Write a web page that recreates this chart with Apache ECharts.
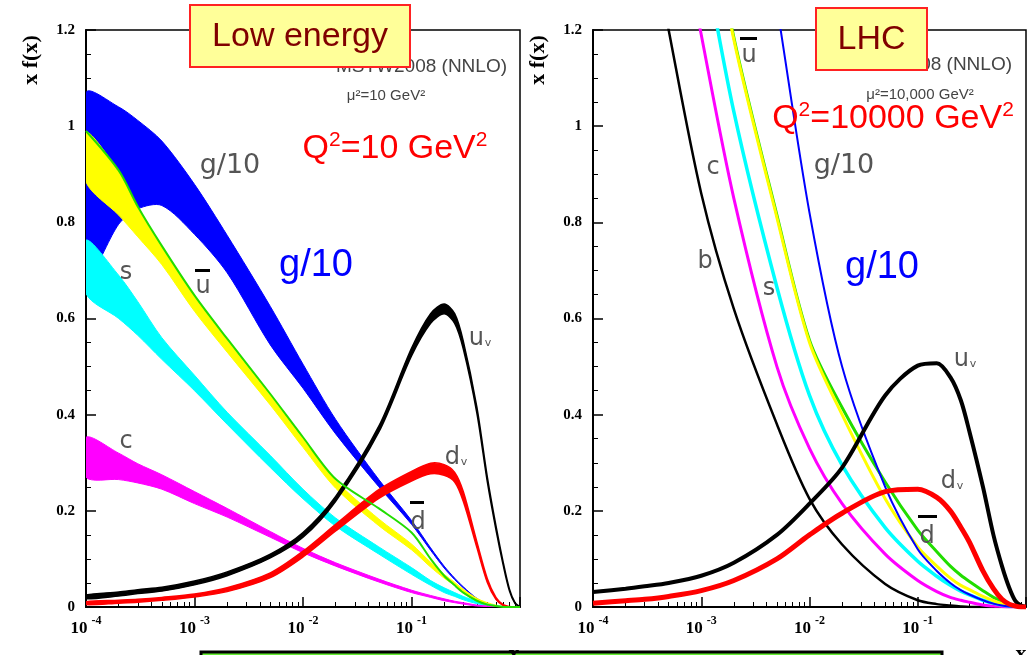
<!DOCTYPE html>
<html>
<head>
<meta charset="utf-8">
<script src="https://cdn.jsdelivr.net/npm/echarts@6/dist/echarts.min.js"></script>
<style>
  html, body { margin: 0; padding: 0; background: #fff; }
  #chart { width: 1030px; height: 655px; }
</style>
</head>
<body>
<div id="chart"></div>
<script>
// x grid shared by every curve
const xs = [1e-4, 2e-4, 3e-4, 5e-4, 1e-3, 2e-3, 5e-3, 0.01, 0.02, 0.05, 0.1, 0.15, 0.2, 0.25, 0.3, 0.4, 0.5, 0.6, 0.7, 0.8, 0.9, 1];
const xMajor = [1e-4, 1e-3, 1e-2, 1e-1, 1];
const xLabels = [1e-4, 1e-3, 1e-2, 1e-1];
const xMinor = [2e-4, 3e-4, 4e-4, 5e-4, 6e-4, 7e-4, 8e-4, 9e-4,
  2e-3, 3e-3, 4e-3, 5e-3, 6e-3, 7e-3, 8e-3, 9e-3,
  0.02, 0.03, 0.04, 0.05, 0.06, 0.07, 0.08, 0.09,
  0.2, 0.3, 0.4, 0.5, 0.6, 0.7, 0.8, 0.9];

// Q2 = 10 GeV2 (bands: lower / upper edge)
const gLo   = [0.68, 0.796, 0.828, 0.835, 0.775, 0.695, 0.545, 0.455, 0.36, 0.25, 0.172, 0.118, 0.081, 0.057, 0.04, 0.016, 0.006, 0.001, 0, 0, 0, 0];
const gHi   = [1.069, 1.04, 1.012, 0.969, 0.879, 0.773, 0.625, 0.505, 0.39, 0.265, 0.18, 0.123, 0.085, 0.06, 0.042, 0.018, 0.007, 0.002, 0.001, 0, 0, 0];
const ubLo  = [0.884, 0.815, 0.77, 0.712, 0.615, 0.53, 0.42, 0.332, 0.247, 0.169, 0.119, 0.083, 0.06, 0.045, 0.031, 0.014, 0.006, 0.002, 0, 0, 0, 0];
const ubHi  = [0.988, 0.905, 0.83, 0.748, 0.645, 0.555, 0.44, 0.35, 0.263, 0.183, 0.131, 0.093, 0.068, 0.051, 0.037, 0.018, 0.009, 0.004, 0.001, 0, 0, 0];
const dbar  = [0.99, 0.908, 0.833, 0.751, 0.648, 0.558, 0.443, 0.353, 0.266, 0.205, 0.155, 0.1, 0.065, 0.045, 0.03, 0.013, 0.005, 0.002, 0, 0, 0, 0];
const sLo   = [0.652, 0.6, 0.565, 0.515, 0.45, 0.38, 0.29, 0.225, 0.168, 0.11, 0.068, 0.045, 0.03, 0.022, 0.015, 0.007, 0.003, 0.001, 0, 0, 0, 0];
const sHi   = [0.763, 0.69, 0.635, 0.56, 0.482, 0.405, 0.315, 0.245, 0.185, 0.125, 0.082, 0.055, 0.04, 0.03, 0.022, 0.012, 0.006, 0.003, 0.001, 0, 0, 0];
const cLo   = [0.27, 0.265, 0.258, 0.245, 0.215, 0.187, 0.145, 0.113, 0.085, 0.052, 0.03, 0.02, 0.013, 0.009, 0.006, 0.002, 0.001, 0, 0, 0, 0, 0];
const cHi   = [0.353, 0.32, 0.298, 0.275, 0.24, 0.205, 0.157, 0.122, 0.092, 0.058, 0.035, 0.024, 0.017, 0.012, 0.009, 0.004, 0.002, 0, 0, 0, 0, 0];
const uvLo  = [0.017, 0.023, 0.028, 0.033, 0.046, 0.065, 0.102, 0.145, 0.22, 0.364, 0.522, 0.59, 0.61, 0.59, 0.537, 0.404, 0.26, 0.161, 0.087, 0.033, 0.007, 0];
const uvHi  = [0.025, 0.031, 0.036, 0.041, 0.054, 0.073, 0.11, 0.155, 0.23, 0.376, 0.538, 0.61, 0.63, 0.61, 0.553, 0.416, 0.27, 0.169, 0.093, 0.037, 0.009, 0];
const dvLo  = [0.005, 0.008, 0.01, 0.014, 0.021, 0.032, 0.061, 0.104, 0.158, 0.226, 0.262, 0.277, 0.274, 0.26, 0.22, 0.124, 0.051, 0.016, 0.003, 0, 0, 0];
const dvHi  = [0.011, 0.014, 0.016, 0.02, 0.027, 0.04, 0.071, 0.116, 0.172, 0.244, 0.282, 0.299, 0.296, 0.28, 0.24, 0.136, 0.059, 0.02, 0.005, 0.001, 0, 0];

// Q2 = 10000 GeV2 (central lines)
const bR    = [2.1, 1.7, 1.47, 1.2, 0.86, 0.62, 0.38, 0.225, 0.13, 0.048, 0.014, 0.006, 0.003, 0.001, 0, 0, 0, 0, 0, 0, 0, 0];
const cR    = [2.6, 2.1, 1.85, 1.55, 1.19, 0.85, 0.5, 0.33, 0.215, 0.11, 0.055, 0.032, 0.02, 0.014, 0.01, 0.004, 0.002, 0.001, 0, 0, 0, 0];
const sR    = [3.0, 2.45, 2.15, 1.78, 1.39, 1.03, 0.665, 0.44, 0.295, 0.165, 0.095, 0.064, 0.045, 0.033, 0.025, 0.014, 0.008, 0.004, 0.002, 0.001, 0, 0];
const ubR   = [3.4, 2.8, 2.45, 2.0, 1.55, 1.18, 0.81, 0.55, 0.4, 0.225, 0.125, 0.085, 0.06, 0.045, 0.036, 0.022, 0.013, 0.007, 0.004, 0.001, 0, 0];
const dbR   = [3.4, 2.8, 2.45, 2.0, 1.55, 1.185, 0.815, 0.555, 0.415, 0.26, 0.16, 0.115, 0.085, 0.066, 0.053, 0.034, 0.02, 0.012, 0.006, 0.002, 0, 0];
const gR    = [4.5, 3.8, 3.4, 2.9, 2.3, 1.8, 1.25, 0.82, 0.5, 0.25, 0.12, 0.075, 0.05, 0.035, 0.026, 0.014, 0.007, 0.003, 0.001, 0, 0, 0];
const uvR   = [0.031, 0.038, 0.043, 0.05, 0.065, 0.092, 0.15, 0.215, 0.29, 0.44, 0.502, 0.507, 0.478, 0.43, 0.365, 0.25, 0.15, 0.085, 0.04, 0.012, 0.003, 0];
const dvR   = [0.008, 0.013, 0.016, 0.022, 0.034, 0.055, 0.1, 0.15, 0.195, 0.24, 0.245, 0.228, 0.2, 0.166, 0.135, 0.075, 0.038, 0.016, 0.006, 0.002, 0, 0];

const SERIF = '"Liberation Serif", "DejaVu Serif", serif';
const SANS = '"Liberation Sans", Arial, sans-serif';
const GRAYF = '"DejaVu Sans", sans-serif';
const GRAY = '#555';

function pairs(ys) {
  return xs.map((x, i) => [x, ys[i]]);
}

// band: one smoothed polygon between the lower and upper edge, placed with api.coord
function band(lo, hi, color, panel, lw) {
  return {
    type: 'custom', xAxisIndex: panel * 2, yAxisIndex: panel, clip: true, silent: true, animation: false,
    data: xs.map((x, i) => [x, lo[i], hi[i]]),
    renderItem: function (params, api) {
      if (params.dataIndex !== 0) return null;
      const top = xs.map((x, i) => api.coord([x, hi[i]]));
      const bot = xs.map((x, i) => api.coord([x, lo[i]])).reverse();
      return {
        type: 'polygon',
        shape: { points: top.concat(bot), smooth: 0.3 },
        style: { fill: color, stroke: color, lineWidth: lw }
      };
    }
  };
}

function curve(ys, color, panel, lw) {
  return {
    type: 'line', xAxisIndex: panel * 2, yAxisIndex: panel, data: pairs(ys),
    symbol: 'none', smooth: 0.3, silent: true, animation: false,
    lineStyle: { width: lw, color: color }
  };
}

function xAxes(gridIndex) {
  return [
    {
      type: 'log', gridIndex: gridIndex, min: 1e-4, max: 1, logBase: 10, position: 'bottom',
      axisLine: { show: true, lineStyle: { color: '#000', width: 2 } },
      axisTick: { show: true, inside: true, length: 10, customValues: xMajor, lineStyle: { color: '#000', width: 1.5 } },
      splitLine: { show: false },
      axisLabel: {
        margin: 8, customValues: xLabels,
        formatter: v => '{b|10}{e|' + Math.round(Math.log10(v)) + '}',
        rich: {
          b: { fontFamily: SERIF, fontWeight: 'bold', fontSize: 17, lineHeight: 22, verticalAlign: 'bottom', color: '#000' },
          e: { fontFamily: SERIF, fontWeight: 'bold', fontSize: 12, lineHeight: 22, verticalAlign: 'top', padding: [0, 0, 0, 4], color: '#000' }
        }
      }
    },
    {
      type: 'log', gridIndex: gridIndex, min: 1e-4, max: 1, logBase: 10, position: 'bottom', offset: 0,
      axisLine: { show: false },
      axisTick: { show: true, inside: true, length: 5, customValues: xMinor, lineStyle: { color: '#000', width: 1 } },
      axisLabel: { show: false },
      splitLine: { show: false }
    }
  ];
}

function yAxis(gridIndex) {
  return {
    type: 'value', gridIndex: gridIndex, min: 0, max: 1.2, interval: 0.2,
    axisLine: { show: true, lineStyle: { color: '#000', width: 2 } },
    axisTick: { show: true, inside: true, length: 10, lineStyle: { color: '#000', width: 1.5 } },
    minorTick: { show: true, splitNumber: 4, length: 5, lineStyle: { color: '#000', width: 1 } },
    splitLine: { show: false },
    axisLabel: {
      margin: 11, fontFamily: SERIF, fontWeight: 'bold', fontSize: 15, color: '#000',
      formatter: v => String(Math.round(v * 10) / 10)
    }
  };
}

function label(x, y, text, size) {
  return {
    type: 'text', x: x, y: y, z: 50,
    style: { text: text, font: size + 'px ' + GRAYF, fill: GRAY, align: 'center', verticalAlign: 'middle' }
  };
}

function sub(x, y, main, s) {
  return {
    type: 'text', x: x, y: y, z: 50,
    style: {
      text: '{m|' + main + '}{s|' + s + '}', align: 'center', verticalAlign: 'middle',
      rich: {
        m: { fontFamily: GRAYF, fontSize: 24, fill: GRAY, lineHeight: 26, verticalAlign: 'middle' },
        s: { fontFamily: GRAYF, fontSize: 11, fill: GRAY, lineHeight: 26, verticalAlign: 'bottom', padding: [0, 0, 3, 1] }
      }
    }
  };
}

function bar(x, y, w) {
  return { type: 'rect', z: 50, shape: { x: x, y: y, width: w, height: 3 }, style: { fill: '#000' } };
}

function qText(x, y, mid) {
  return {
    type: 'text', x: x, y: y, z: 50,
    style: {
      text: '{a|Q}{s|2}{a|=' + mid + ' GeV}{s|2}', align: 'center', verticalAlign: 'middle',
      rich: {
        a: { fontFamily: SANS, fontSize: 34, fill: '#ff0000', lineHeight: 36, verticalAlign: 'bottom' },
        s: { fontFamily: SANS, fontSize: 21, fill: '#ff0000', lineHeight: 36, verticalAlign: 'top' }
      }
    }
  };
}

function titleBox(x, y, w, h, text) {
  return [
    { type: 'rect', z: 60, shape: { x: x, y: y, width: w, height: h }, style: { fill: '#ffff99', stroke: '#ff2222', lineWidth: 2 } },
    { type: 'text', z: 61, x: x + w / 2, y: y + h / 2 + 1, style: { text: text, font: '34px ' + SANS, fill: '#800000', align: 'center', verticalAlign: 'middle' } }
  ];
}

const chart = echarts.init(document.getElementById('chart'));

const series = [
  band(gLo, gHi, '#0000ff', 0, 1),
  curve(dbar, '#22dd00', 0, 2),
  band(ubLo, ubHi, '#ffff00', 0, 1),
  band(sLo, sHi, '#00ffff', 0, 1),
  band(cLo, cHi, '#ff00ff', 0, 1),
  band(uvLo, uvHi, '#000000', 0, 1.5),
  band(dvLo, dvHi, '#ff0000', 0, 1.5),
  curve(bR, '#000000', 1, 2.5),
  curve(cR, '#ff00ff', 1, 3),
  curve(sR, '#00ffff', 1, 3.5),
  curve(dbR, '#22dd00', 1, 3),
  curve(ubR, '#ffff00', 1, 3),
  curve(gR, '#0000ff', 1, 2),
  curve(uvR, '#000000', 1, 4),
  curve(dvR, '#ff0000', 1, 5)
];

const graphic = [
  // axis titles
  { type: 'text', x: 31, y: 60, rotation: Math.PI / 2, z: 50, style: { text: 'x f(x)', font: 'bold 22px ' + SERIF, fill: '#000', align: 'center', verticalAlign: 'middle' } },
  { type: 'text', x: 538, y: 60, rotation: Math.PI / 2, z: 50, style: { text: 'x f(x)', font: 'bold 22px ' + SERIF, fill: '#000', align: 'center', verticalAlign: 'middle' } },
  // bottom green box
  { type: 'rect', z: 60, shape: { x: 201, y: 652, width: 741, height: 30 }, style: { fill: '#66ee33', stroke: '#000', lineWidth: 3 } },
  { type: 'text', x: 514, y: 643, z: 62, style: { text: 'x', font: 'bold 22px ' + SERIF, fill: '#000', align: 'center', verticalAlign: 'top' } },
  { type: 'text', x: 1021, y: 643, z: 62, style: { text: 'x', font: 'bold 22px ' + SERIF, fill: '#000', align: 'center', verticalAlign: 'top' } },

  // left panel annotations
  { type: 'text', x: 507, y: 67, z: 50, style: { text: 'MSTW2008 (NNLO)', font: '19px ' + SANS, fill: '#444', align: 'right', verticalAlign: 'middle' } },
  { type: 'text', x: 386, y: 96, z: 50, style: { text: 'μ²=10 GeV²', font: '15px ' + SANS, fill: '#444', align: 'center', verticalAlign: 'middle' } },
  qText(395, 148, '10'),
  label(230, 166, 'g/10', 27),
  { type: 'text', x: 316, y: 266, z: 50, style: { text: 'g/10', font: '38px ' + SANS, fill: '#0000ff', align: 'center', verticalAlign: 'middle' } },
  label(126, 273, 's', 24),
  label(203, 287, 'u', 24), bar(195, 269, 15),
  sub(480, 339, 'u', 'v'),
  label(126, 442, 'c', 24),
  sub(456, 458, 'd', 'v'),
  label(418, 523, 'd', 24), bar(410, 501, 14),

  // right panel annotations
  { type: 'text', x: 1012, y: 65, z: 50, style: { text: 'MSTW2008 (NNLO)', font: '19px ' + SANS, fill: '#444', align: 'right', verticalAlign: 'middle' } },
  { type: 'text', x: 920, y: 95, z: 50, style: { text: 'μ²=10,000 GeV²', font: '15px ' + SANS, fill: '#444', align: 'center', verticalAlign: 'middle' } },
  qText(893, 118, '10000'),
  label(844, 166, 'g/10', 27),
  { type: 'text', x: 882, y: 268, z: 50, style: { text: 'g/10', font: '38px ' + SANS, fill: '#0000ff', align: 'center', verticalAlign: 'middle' } },
  label(749, 56, 'u', 24), bar(740, 37, 17),
  label(713, 168, 'c', 24),
  label(705, 262, 'b', 24),
  label(769, 289, 's', 24),
  sub(965, 360, 'u', 'v'),
  sub(952, 482, 'd', 'v'),
  label(927, 537, 'd', 24), bar(918, 515, 19)
].concat(
  titleBox(190, 5, 220, 62, 'Low energy'),
  titleBox(816, 8, 111, 62, 'LHC')
);

chart.setOption({
  backgroundColor: '#fff',
  animation: false,
  grid: [
    { left: 86, top: 30, width: 434, height: 577, show: true, borderColor: '#000', borderWidth: 1.5, backgroundColor: 'transparent' },
    { left: 593, top: 30, width: 433, height: 577, show: true, borderColor: '#000', borderWidth: 1.5, backgroundColor: 'transparent' }
  ],
  xAxis: xAxes(0).concat(xAxes(1)),
  yAxis: [yAxis(0), yAxis(1)],
  series: series,
  graphic: graphic
});
</script>
</body>
</html>
